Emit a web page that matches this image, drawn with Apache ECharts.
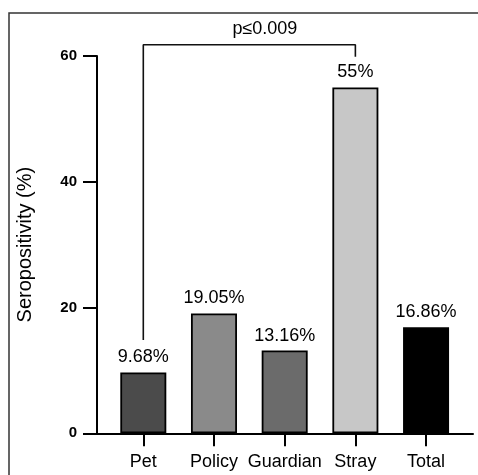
<!DOCTYPE html>
<html>
<head>
<meta charset="utf-8">
<script src="https://cdn.jsdelivr.net/npm/echarts@6/dist/echarts.min.js"></script>
<style>html,body{margin:0;padding:0;background:#fff}#c{width:478px;height:475px}</style>
</head>
<body>
<div id="c"></div>
<script>
// ---- data ----
const categories = ['Pet', 'Policy', 'Guardian', 'Stray', 'Total'];
const seropositivity = [9.68, 19.05, 13.16, 55, 16.86];
const yTicks = [0, 20, 40, 60];
const barColors = ['#4b4b4b', '#8a8a8a', '#6b6b6b', '#c7c7c7', '#000000'];
// significance bracket: between category indices, heights in axis units
const bracketCats = [0, 3];
const bracketLeftBottom = 14.85;
const bracketTop = 61.8;
const bracketRightBottom = 59.9;
const pText = 'p≤0.009';
const pTextPos = [1.72, 64.3];

const FONT = '"Liberation Sans", Arial, Helvetica, sans-serif';
const chart = echarts.init(document.getElementById('c'));

chart.setOption({
  animation: false,
  backgroundColor: '#fff',
  graphic: [{
    type: 'rect',
    shape: { x: 9, y: 13, width: 700, height: 700 },
    style: { fill: 'none', stroke: '#333', lineWidth: 1.5 },
    silent: true
  }],
  grid: { left: 97, right: 5, top: 56, bottom: 41.7, containLabel: false },
  xAxis: {
    type: 'value',
    min: -0.655,
    max: 4.664,
    splitLine: { show: false },
    axisLine: { show: true, onZero: false, lineStyle: { color: '#000', width: 2 } },
    axisTick: { show: true, inside: false, length: 13, lineStyle: { color: '#000', width: 2 }, customValues: categories.map((c, i) => i) },
    axisLabel: {
      customValues: categories.map((c, i) => i),
      formatter: v => categories[Math.round(v)],
      fontSize: 18, fontFamily: FONT, color: '#000', margin: 20
    }
  },
  yAxis: {
    type: 'value',
    min: yTicks[0],
    max: yTicks[yTicks.length - 1],
    interval: yTicks[1] - yTicks[0],
    name: 'Seropositivity (%)',
    nameLocation: 'middle',
    nameGap: 62,
    nameTextStyle: { fontSize: 20, fontFamily: FONT, color: '#000' },
    splitLine: { show: false },
    axisLine: { show: true, onZero: false, lineStyle: { color: '#000', width: 2 } },
    axisTick: { show: true, inside: false, length: 14, lineStyle: { color: '#000', width: 2 } },
    axisLabel: { fontSize: 15, fontWeight: 'bold', fontFamily: FONT, color: '#000', margin: 20 }
  },
  series: [
    {
      type: 'bar',
      barWidth: 46,
      data: seropositivity.map((v, i) => ({ value: [i, v], itemStyle: { color: barColors[i] } })),
      itemStyle: { borderColor: '#000', borderWidth: 1.8 },
      label: {
        show: true,
        position: 'top',
        distance: 6,
        formatter: p => p.value[1] + '%',
        fontSize: 18,
        fontFamily: FONT,
        color: '#000'
      }
    },
    {
      type: 'line',
      clip: false,
      silent: true,
      symbol: 'none',
      lineStyle: { color: '#111', width: 1.6 },
      data: [
        [bracketCats[0], bracketLeftBottom],
        [bracketCats[0], bracketTop],
        [bracketCats[1], bracketTop],
        [bracketCats[1], bracketRightBottom]
      ]
    },
    {
      type: 'scatter',
      clip: false,
      silent: true,
      symbolSize: 0,
      itemStyle: { opacity: 1 },
      data: [pTextPos],
      label: {
        show: true,
        position: 'inside',
        formatter: pText,
        fontSize: 18,
        fontFamily: FONT,
        color: '#000'
      }
    }
  ]
});
</script>
</body>
</html>
